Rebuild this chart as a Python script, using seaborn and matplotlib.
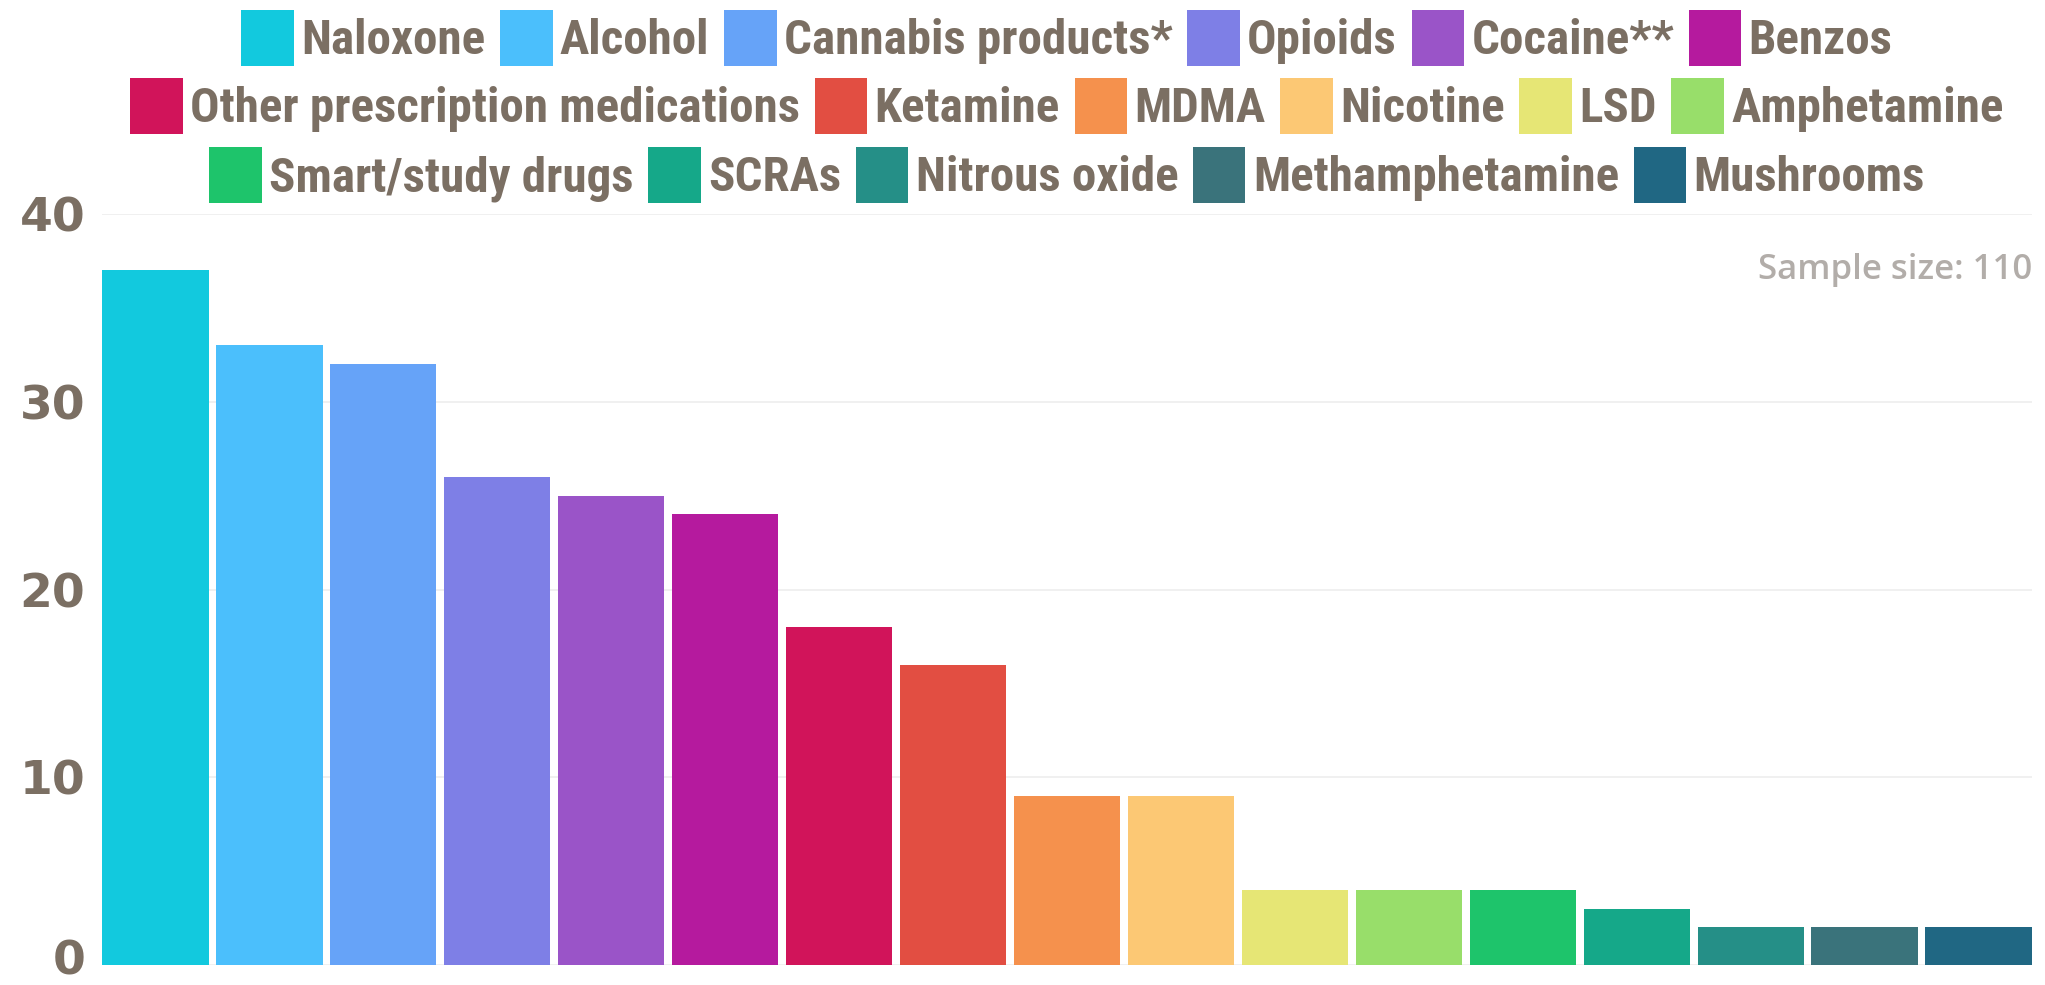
import matplotlib
matplotlib.use("Agg")
import matplotlib.pyplot as plt
import matplotlib.transforms as mtransforms
from matplotlib import font_manager
from matplotlib.patches import Patch
import seaborn as sns
import pandas as pd

categories = ["Naloxone", "Alcohol", "Cannabis products*", "Opioids", "Cocaine**", "Benzos",
              "Other prescription medications", "Ketamine", "MDMA", "Nicotine", "LSD", "Amphetamine",
              "Smart/study drugs", "SCRAs", "Nitrous oxide", "Methamphetamine", "Mushrooms"]
values = [37, 33, 32, 26, 25, 24, 18, 16, 9, 9, 4, 4, 4, 3, 2, 2, 2]
colors = ["#12C9DE", "#4BBFFC", "#66A3F8", "#7E7FE6", "#9A54C8", "#B51A9E",
          "#D1145A", "#E24E42", "#F5914D", "#FCC874", "#E6E675", "#98DE6A",
          "#1EC46B", "#15A889", "#258F87", "#3A737B", "#206783"]
legend_rows = [6, 6, 5]
yticks = [0, 10, 20, 30, 40]
note = "Sample size: 110"

TEXT = "#7B6F63"

names = {f.name for f in font_manager.fontManager.ttflist}
cond = None
for cand in ["Roboto Condensed", "Liberation Sans Narrow", "DejaVu Sans Condensed", "Open Sans Condensed"]:
    if cand in names:
        cond = cand
        break
if cond is None:
    cond = "DejaVu Sans"

sns.set_theme(style="white")
plt.rcParams["font.family"] = ["DejaVu Sans"]

W, H, DPI = 2045, 985, 100
fig = plt.figure(figsize=(W / DPI, H / DPI), dpi=DPI)
L, R, B, T = 102, 2032, 965, 214
ax = fig.add_axes([L / W, (H - B) / H, (R - L) / W, (B - T) / H])

df = pd.DataFrame({"cat": categories, "val": values})
bw = 0.935
sns.barplot(data=df, x="cat", y="val", hue="cat", palette=colors, width=bw,
            dodge=False, legend=False, ax=ax, saturation=1, linewidth=0, zorder=3)

ax.set_xlim(-bw / 2, len(categories) - 1 + bw / 2)
ax.set_ylim(0, 40)
ax.set_yticks(yticks)
ax.set_yticklabels([str(t) for t in yticks], fontsize=34, fontweight="bold", color=TEXT)
ax.tick_params(axis="y", length=0, pad=12)
ax.set_xticks([])
ax.set_xlabel("")
ax.set_ylabel("")
for s in ax.spines.values():
    s.set_visible(False)
ax.yaxis.grid(True, color="#EDEDED", linewidth=1.2, zorder=0)
ax.set_axisbelow(True)

# nudge the "0" label up a little so it stays inside the figure
zero_lbl = ax.get_yticklabels()[0]
zero_lbl.set_transform(zero_lbl.get_transform() +
                       mtransforms.ScaledTranslation(0, 6 / 72, fig.dpi_scale_trans))

# legends, three centered rows
fs = 35.3
cx = (L + R) / 2 / W
row_y = [38, 106, 175]
start = 0
for n, yy in zip(legend_rows, row_y):
    handles = [Patch(facecolor=colors[i], edgecolor="none") for i in range(start, start + n)]
    labels = categories[start:start + n]
    leg = fig.legend(handles, labels, loc="center", bbox_to_anchor=(cx, 1 - yy / H),
                     ncol=n, frameon=False, handlelength=1.07, handleheight=1.36,
                     handletextpad=0.15, columnspacing=0.3, borderpad=0, borderaxespad=0,
                     prop=font_manager.FontProperties(family=cond, weight="bold",
                                                      stretch="condensed", size=fs))
    for t in leg.get_texts():
        t.set_color(TEXT)
    start += n

fig.text(R / W, 1 - 270 / H, note, ha="right", va="center", fontsize=25,
         fontfamily="Open Sans", fontweight="semibold", color="#B2ADA9")

fig.savefig("out.png", dpi=DPI)
